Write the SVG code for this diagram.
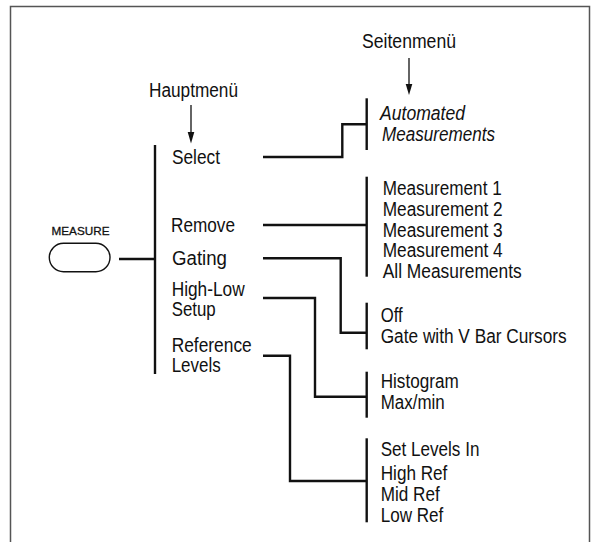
<svg xmlns="http://www.w3.org/2000/svg" width="591" height="542" viewBox="0 0 591 542">
<style>
text{font-family:"Liberation Sans",Arial,sans-serif;font-size:19.5px;fill:#111}
.it{font-style:italic}
.sm{font-size:11.5px;stroke:#111;stroke-width:0.3}
.bar{stroke:#111;stroke-width:2.4;fill:none}
.con{stroke:#111;stroke-width:2.4;fill:none}
.arr{stroke:#111;stroke-width:1.3;fill:none}
.head{fill:#111}
</style>
<rect width="591" height="542" fill="#fff"/>
<path d="M10.5,542 V6.5 H589.5 V542" fill="none" stroke="#555" stroke-width="1.5"/>

<g id="labels">
<text x="362" y="48" textLength="94" lengthAdjust="spacingAndGlyphs">Seitenmenü</text>
<text x="149" y="97" textLength="89" lengthAdjust="spacingAndGlyphs">Hauptmenü</text>
<path class="arr" d="M409,58 V84"/>
<path class="head" d="M405.7,84 L409,95 L412.3,84 Z"/>
<path class="arr" d="M191,105 V132"/>
<path class="head" d="M187.7,132 L191,143.5 L194.3,132 Z"/>
</g>

<g id="measure">
<text class="sm" x="51.5" y="235" textLength="58" lengthAdjust="spacingAndGlyphs">MEASURE</text>
<rect x="49.3" y="243.3" width="60.7" height="28.4" rx="14.2" fill="none" stroke="#111" stroke-width="1.4"/>
</g>

<g id="main-menu">
<path class="bar" d="M155,145 V374"/>
<text x="172" y="164" textLength="48" lengthAdjust="spacingAndGlyphs">Select</text>
<text x="171" y="232" textLength="64" lengthAdjust="spacingAndGlyphs">Remove</text>
<text x="172" y="265" textLength="55" lengthAdjust="spacingAndGlyphs">Gating</text>
<text x="171.7" y="296" textLength="73" lengthAdjust="spacingAndGlyphs">High-Low</text>
<text x="171.7" y="316" textLength="44" lengthAdjust="spacingAndGlyphs">Setup</text>
<text x="171.7" y="352" textLength="80" lengthAdjust="spacingAndGlyphs">Reference</text>
<text x="171.7" y="372" textLength="49" lengthAdjust="spacingAndGlyphs">Levels</text>
</g>

<g id="side-select">
<path class="bar" d="M366.7,98.3 V150"/>
<text class="it" x="380" y="120" textLength="85" lengthAdjust="spacingAndGlyphs">Automated</text>
<text class="it" x="382" y="141" textLength="113" lengthAdjust="spacingAndGlyphs">Measurements</text>
</g>

<g id="side-remove">
<path class="bar" d="M366.7,176.7 V276.7"/>
<text x="382.7" y="195" textLength="119" lengthAdjust="spacingAndGlyphs">Measurement 1</text>
<text x="382.7" y="216" textLength="120" lengthAdjust="spacingAndGlyphs">Measurement 2</text>
<text x="382.7" y="236.5" textLength="120" lengthAdjust="spacingAndGlyphs">Measurement 3</text>
<text x="382.7" y="257" textLength="120" lengthAdjust="spacingAndGlyphs">Measurement 4</text>
<text x="382.7" y="278" textLength="139" lengthAdjust="spacingAndGlyphs">All Measurements</text>
</g>

<g id="side-gating">
<path class="bar" d="M366.7,302.7 V349.3"/>
<text x="380.7" y="321.7" textLength="22" lengthAdjust="spacingAndGlyphs">Off</text>
<text x="380.7" y="342.7" textLength="186" lengthAdjust="spacingAndGlyphs">Gate with V Bar Cursors</text>
</g>

<g id="side-highlow">
<path class="bar" d="M366.7,371.7 V417.7"/>
<text x="380.7" y="388.3" textLength="78" lengthAdjust="spacingAndGlyphs">Histogram</text>
<text x="380.7" y="409.3" textLength="64" lengthAdjust="spacingAndGlyphs">Max/min</text>
</g>

<g id="side-reference">
<path class="bar" d="M366.7,438.3 V522.3"/>
<text x="380.7" y="456" textLength="98.7" lengthAdjust="spacingAndGlyphs">Set Levels In</text>
<text x="380.7" y="480" textLength="66.7" lengthAdjust="spacingAndGlyphs">High Ref</text>
<text x="380.7" y="501" textLength="59" lengthAdjust="spacingAndGlyphs">Mid Ref</text>
<text x="380.7" y="521.7" textLength="62.6" lengthAdjust="spacingAndGlyphs">Low Ref</text>
</g>

<g id="connectors">
<path class="con" d="M119,259 H155"/>
<path class="con" d="M263,157 H342.3 V124.3 H366.7"/>
<path class="con" d="M263,225 H366.7"/>
<path class="con" d="M263,258.3 H340.7 V332.7 H366.7"/>
<path class="con" d="M263,298 H315 V396.7 H366.7"/>
<path class="con" d="M263,355.7 H290 V481 H366.7"/>
</g>
</svg>
